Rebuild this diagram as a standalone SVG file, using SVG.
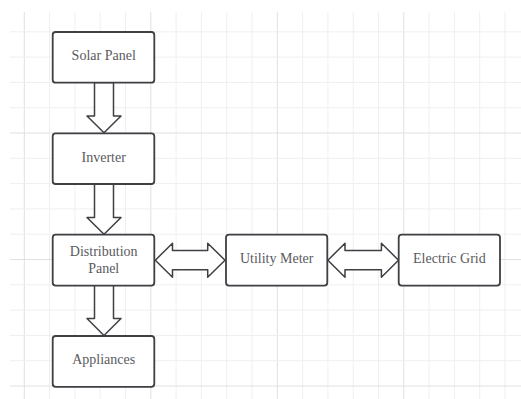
<svg xmlns="http://www.w3.org/2000/svg" width="521" height="399" viewBox="0 0 521 399">
<defs>
<style>
.g{stroke:#efefef;stroke-width:1;fill:none}
.gm{stroke:#e0e0e0;stroke-width:1;fill:none}
.box{fill:#ffffff;stroke:#3f3f44;stroke-width:1.8}
.arr{fill:#ffffff;stroke:#3f3f44;stroke-width:1.5;stroke-linejoin:round}
.t{font-family:"Liberation Serif","Times New Roman",serif;font-size:14px;fill:#5a5a60;text-anchor:middle}
</style>
</defs>
<rect width="521" height="399" fill="#ffffff"/>
<g id="grid">
<path class="g" d="M49.6 12V399M74.9 12V399M100.2 12V399M125.5 12V399M176.1 12V399M201.4 12V399M226.7 12V399M252 12V399M302.6 12V399M327.9 12V399M353.2 12V399M378.5 12V399M429.1 12V399M454.4 12V399M479.7 12V399M505 12V399"/>
<path class="gm" d="M24.3 12V399M150.8 12V399M277.3 12V399M403.8 12V399"/>
<path class="g" d="M10 31.8H521M10 57.1H521M10 82.4H521M10 107.7H521M10 158.3H521M10 183.6H521M10 208.9H521M10 234.2H521M10 284.8H521M10 310.1H521M10 335.4H521M10 360.7H521"/>
<path class="gm" d="M10 133H521M10 259.5H521M10 386H521"/>
</g>
<g id="connectors">
<path class="arr" d="M94.5 83.5Q94.5 82.5 95.5 82.5H112.5Q113.5 82.5 113.5 83.5V116H121L104 132.8L87 116H94.5Z"/>
<path class="arr" d="M94.5 184.5Q94.5 183.5 95.5 183.5H112.5Q113.5 183.5 113.5 184.5V217.5H121L104 234.3L87 217.5H94.5Z"/>
<path class="arr" d="M94.5 286Q94.5 285 95.5 285H112.5Q113.5 285 113.5 286V318.5H121L104 335.5L87 318.5H94.5Z"/>
<path class="arr" d="M155.3 260.2L172.5 243.2V250.6H207.7V243.2L225 260.2L207.7 277.2V269.8H172.5V277.2Z"/>
<path class="arr" d="M327.9 260.2L345 243.2V250.6H381.4V243.2L398.5 260.2L381.4 277.2V269.8H345V277.2Z"/>
</g>
<g id="solar-panel">
<rect class="box" x="52.7" y="32" width="101.6" height="50.7" rx="3"/>
<text class="t" x="103.7" y="59.6">Solar Panel</text>
</g>
<g id="inverter">
<rect class="box" x="52.7" y="133.3" width="101.6" height="50.7" rx="3"/>
<text class="t" x="103.7" y="161.6">Inverter</text>
</g>
<g id="distribution-panel">
<rect class="box" x="52.7" y="234.7" width="101.6" height="50.9" rx="3"/>
<text class="t" x="103.7" y="256.2">Distribution</text>
<text class="t" x="103.7" y="272.8">Panel</text>
</g>
<g id="appliances">
<rect class="box" x="52.7" y="336" width="101.6" height="50.8" rx="3"/>
<text class="t" x="103.7" y="364.1">Appliances</text>
</g>
<g id="utility-meter">
<rect class="box" x="226" y="234.7" width="101.3" height="50.9" rx="3"/>
<text class="t" x="276.7" y="263">Utility Meter</text>
</g>
<g id="electric-grid">
<rect class="box" x="398.7" y="234.7" width="101.3" height="50.9" rx="3"/>
<text class="t" x="449.4" y="263">Electric Grid</text>
</g>
</svg>
